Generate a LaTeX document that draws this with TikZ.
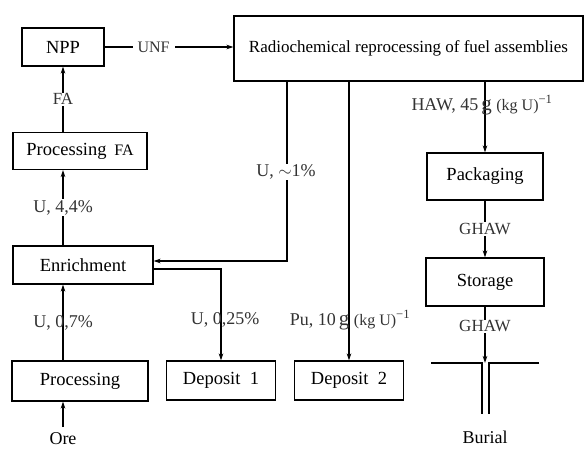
\documentclass[tikz,border=0pt]{standalone}
\usepackage{fontspec}
\setmainfont{Liberation Serif}
\usetikzlibrary{arrows.meta}
\begin{document}
\begin{tikzpicture}[x=1pt,y=-1pt,
  box/.style={draw,line width=1.1pt,inner sep=0pt,font=\fontsize{18.5}{20}\selectfont},
  lbl/.style={inner sep=1pt,font=\fontsize{18}{20}\selectfont,text=black!80},
  wlbl/.style={lbl,fill=white},
  conn/.style={line width=1.1pt},
  arr/.style={conn,-{Stealth[length=7pt,width=4.5pt]}}]
\useasboundingbox (0,0) rectangle (586,449);
% boxes
\node[box,minimum width=82pt,minimum height=38pt] (npp) at (63,47) {NPP};
\node[box,minimum width=134pt,minimum height=37pt] (pfa) at (80,151) {Processing\ \,{\fontsize{16}{17}\selectfont FA}};
\node[box,minimum width=140pt,minimum height=38pt] (enr) at (83,265) {Enrichment};
\node[box,minimum width=136pt,minimum height=40pt] (proc) at (80,381) {Processing};
\node[box,minimum width=109pt,minimum height=39pt] (dep1) at (221,380.5) {Deposit\ \ 1};
\node[box,minimum width=109pt,minimum height=39pt] (dep2) at (349,380.5) {Deposit\ \ 2};
\node[box,minimum width=349pt,minimum height=65pt,font=\fontsize{17}{19}\selectfont] (rad) at (408.5,48.5) {Radiochemical reprocessing of fuel assemblies};
\node[box,minimum width=116pt,minimum height=47pt] (pack) at (485,176.5) {Packaging};
\node[box,minimum width=118pt,minimum height=48pt] (stor) at (485,282) {Storage};
% burial symbol
\coordinate (bl1) at (431,363);
\coordinate (bl2) at (482,363);
\coordinate (bl3) at (482,414);
\coordinate (br1) at (539,363);
\coordinate (br2) at (489,363);
\coordinate (br3) at (489,414);
\coordinate (bmid) at (485,363);
\draw[conn] (bl1) -- (bl2) -- (bl3);
\draw[conn] (br1) -- (br2) -- (br3);
\node[font=\fontsize{18}{20}\selectfont] (burial) at (485,437) {Burial};
% ore
\node[font=\fontsize{18}{20}\selectfont,anchor=north] (ore) at (63,429) {Ore};
\coordinate (orefoot) at (63,427);
% connectors
\draw[arr] (npp.east) -- (rad.west |- npp.east) node[wlbl,pos=0.38,inner xsep=5pt,font=\fontsize{16}{18}\selectfont] {UNF};
\draw[arr] (npp.south |- pfa.north) -- (npp.south) node[wlbl,midway,font=\fontsize{17}{18}\selectfont] {FA};
\draw[arr] (npp.south |- enr.north) -- (npp.south |- pfa.south) node[wlbl,midway] {U, 4,4\%};
\draw[arr] (npp.south |- proc.north) -- (npp.south |- enr.south) node[lbl,pos=0.5] {U, 0,7\%};
\draw[arr] (orefoot) -- (npp.south |- proc.south);
% U ~1% return
\coordinate (ur1) at (287,81);
\coordinate (ur2) at (287,261);
\draw[arr] (ur1) -- (ur2) -- (enr.east |- ur2);
\node[wlbl] (ulab) at (286,172) {U, $\sim$1\%};
% Deposit 1 line
\coordinate (d1a) at (153,269);
\coordinate (d1b) at (221,269);
\draw[arr] (d1a) -- (d1b) -- (d1b |- dep1.north);
\node[lbl] (u025) at (225,320) {U, 0,25\%};
% Pu line
\draw[arr] (dep2.north |- rad.south) -- (dep2.north);
\node[lbl] (pulab) at (350,320) {Pu, 10\,{\fontsize{21}{20}\selectfont g} {\fontsize{16}{18}\selectfont(kg U)}\textsuperscript{\char"2212 1}};
% HAW line
\draw[arr] (pack.north |- rad.south) -- (pack.north);
\node[lbl] (hawlab) at (482,105) {HAW, 45\,{\fontsize{21}{20}\selectfont g} {\fontsize{16}{18}\selectfont(kg U)}\textsuperscript{\char"2212 1}};
% GHAW
\draw[arr] (pack.south) -- (stor.north) node[wlbl,midway,font=\fontsize{17}{18}\selectfont] {GHAW};
\draw[arr] (stor.south) -- (bmid) node[wlbl,pos=0.35,font=\fontsize{17}{18}\selectfont] {GHAW};
\end{tikzpicture}
\end{document}
